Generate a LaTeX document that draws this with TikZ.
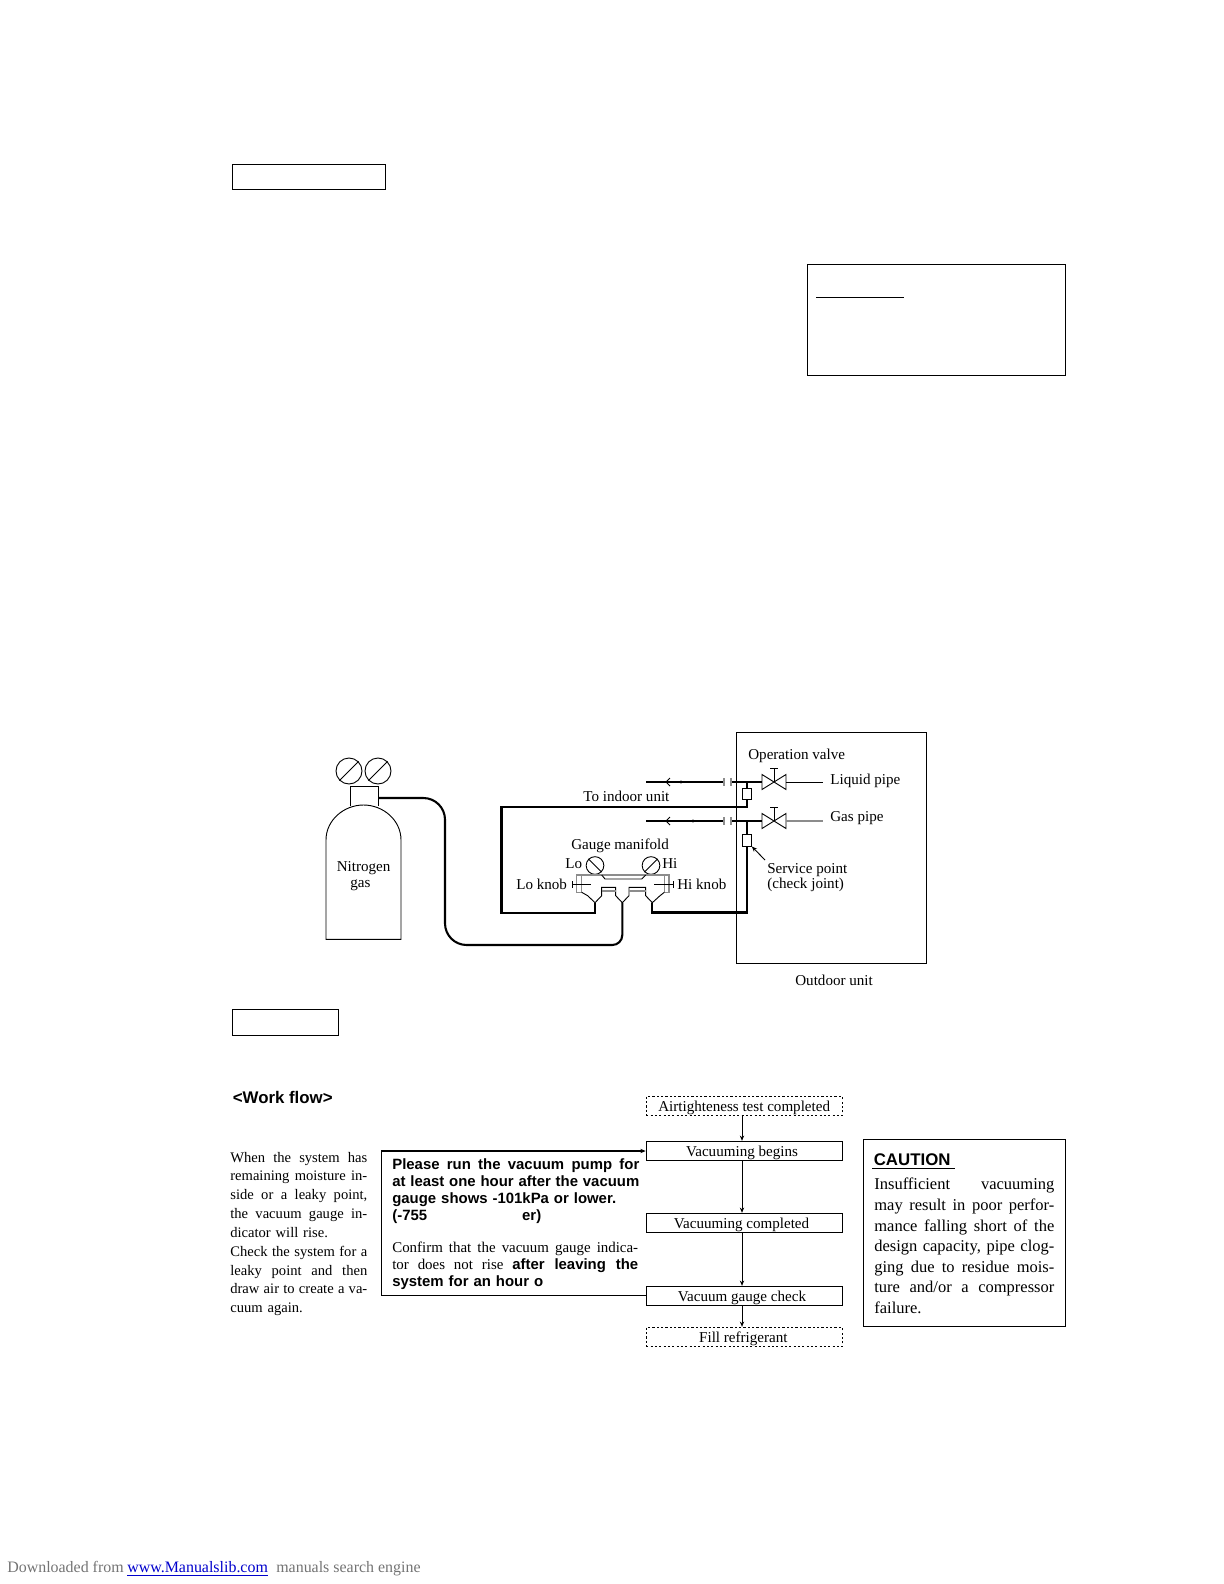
\documentclass[tikz,border=0pt]{standalone}
\usepackage{fontspec}
\setmainfont{Liberation Serif}
\setsansfont{Liberation Sans}
\usetikzlibrary{arrows.meta,calc}
\newcommand{\jl}[1]{\hbox to \hsize{\spaceskip=0pt\xspaceskip=0pt #1}}
\newcommand{\nl}[1]{\hbox to \hsize{#1\hfil}}
\tikzset{
  thinline/.style={line width=0.55pt,black},
  pipe/.style={line width=1.25pt,black},
  pipeplain/.style={line width=1.25pt,black},
  greyline/.style={line width=0.7pt,black!45},
  lab/.style={inner sep=0pt,anchor=west,font=\fontsize{9.05}{11}\selectfont,text height=8.4pt,text depth=2pt},
  emptybox/.style={draw,line width=0.55pt,inner sep=0pt,anchor=north west},
  flowbox/.style={draw,line width=0.6pt,inner sep=0pt,minimum width=117.6pt,minimum height=11.6pt,font=\fontsize{9.05}{11}\selectfont,text height=8.4pt,text depth=2pt},
  flowdash/.style={flowbox,dash pattern=on 1.3pt off 1.3pt},
  gauge/.style={draw,circle,line width=0.55pt,inner sep=0pt,minimum size=#1},
  para/.style={inner sep=0pt,anchor=north west,font=\fontsize{8.75}{11.3}\selectfont},
  tip/.style={-{Stealth[length=3.2pt,width=2.6pt]}}
}
\begin{document}
\begin{tikzpicture}[x=0.6pt,y=-0.6pt]
\useasboundingbox (0,0) rectangle (1224,1584);
% empty frames of the page
\node[emptybox,minimum width=92pt,minimum height=15pt] (frameA) at (232,164.4) {};
\node[emptybox,minimum width=154.8pt,minimum height=66.3pt] (frameB) at (807,264.3) {};
\draw[thinline] (816,297.5) -- (904,297.5);
\node[emptybox,minimum width=63.6pt,minimum height=15.6pt] (frameC) at (232,1009) {};

% nitrogen cylinder
\draw[thinline] (326,939.4) -- (326,840) .. controls (326,820) and (344,805) .. (363.5,805)
  .. controls (383,805) and (401,820) .. (401,840) -- (401,939.4) -- cycle;
\draw[thinline] (350,806) -- (350,786) -- (378,786) -- (378,806);
\node[gauge=15.6pt] (g1) at (349,771) {};
\node[gauge=15.6pt] (g2) at (378,771) {};
\draw[thinline] (g1.225) -- (g1.45);
\draw[thinline] (g2.225) -- (g2.45);
\node[lab] (nit) at (336.5,866) {Nitrogen};
\node[lab] (gasl) at (350,882) {gas};

% outdoor unit
\node[emptybox,minimum width=114pt,minimum height=138.6pt] (outdoor) at (736,732) {};
\node[lab] (opv) at (748,754) {Operation valve};
\node[lab] (liq) at (830,779) {Liquid pipe};
\node[lab] (gasp) at (830,816) {Gas pipe};
\node[lab] (sp) at (767,868) {Service point};
\node[lab] (cj) at (767,883) {(check joint)};
\node[lab] (outl) at (795,980) {Outdoor unit};
\node[lab] (toin) at (583,796) {To indoor unit};
\node[lab] (gm) at (571,844) {Gauge manifold};
\node[lab] (lo) at (565,863) {Lo};
\node[lab] (hi) at (662,863) {Hi};
\node[lab] (lok) at (516,884.5) {Lo knob};
\node[lab] (hik) at (677,884.5) {Hi knob};

% pipes and valves
\draw[pipeplain] (646,782) -- (724,782);
\draw[pipeplain] (731,782) -- (762,782);
\draw[pipeplain] (646,821) -- (724,821);
\draw[pipeplain] (731,821) -- (762,821);
\foreach \yy in {782,821}{
  \draw[greyline] (724,\yy-4) -- (724,\yy+4);
  \draw[greyline] (731,\yy-4) -- (731,\yy+4);
  \draw[thinline] (670,\yy-4) -- (666,\yy) -- (670,\yy+4);
  \draw[thinline] (762,\yy-7.5) -- (786,\yy+7.5) -- (786,\yy-7.5) -- (762,\yy+7.5) -- cycle;
  \draw[thinline] (774,\yy) -- (774,\yy-14);
  \draw[thinline] (770,\yy-14) -- (778,\yy-14);
}
\fill (681,782) circle (1pt);
\fill (693,821) circle (1pt);
\draw[thinline] (786,782) -- (823,782);
\draw[line width=0.8pt,black!45] (786,821) -- (823,821);

% service joints
\node[draw,line width=0.6pt,fill=white,inner sep=0pt,minimum width=5.2pt,minimum height=6.8pt] (joint1) at (747,794) {};
\node[draw,line width=0.6pt,fill=white,inner sep=0pt,minimum width=5.2pt,minimum height=7.2pt] (joint2) at (747,840) {};
\coordinate (liqT) at (747,782);
\coordinate (gasT) at (747,821);
\draw[pipeplain] (liqT) -- (joint1.north);
\draw[pipeplain] (gasT) -- (joint2.north);
\draw[pipeplain] (joint1.south) -- (747,807) -- (501.5,807) -- (501.5,913) -- (595,913) -- (595,902.7);
\draw[pipeplain] (joint2.south) -- (747,912.5) -- (652.3,912.5) -- (652.3,902.7);
\draw[thinline,tip] (765,860) -- (joint2.south east);

% nitrogen hose
\coordinate (hoseA) at (378,798);
\coordinate (hoseB) at (622.3,902.7);
\draw[pipe,rounded corners=13pt] (hoseA) -- (445,798) -- (445,945) [rounded corners=6pt] -- (622.3,945) -- (hoseB);

% gauge manifold
\node[gauge=10.6pt] (glo) at (595,865.5) {};
\node[gauge=10.6pt] (ghi) at (651,865.5) {};
\draw[thinline] (glo.135) -- (glo.-45);
\draw[thinline] (ghi.225) -- (ghi.45);
\draw[greyline] (581.7,892.3) -- (576.7,892.3) -- (576.7,875) -- (669,875) -- (669,892.3) -- (664.3,892.3);
\draw[greyline] (581.7,875) -- (581.7,892.3);
\draw[greyline] (664.3,875) -- (664.3,892.3);
\draw[thinline] (601.7,875) -- (605,879) -- (641.7,879) -- (645.7,875);
\draw[thinline] (572.3,884.3) -- (590.7,884.3);
\draw[thinline] (572.3,881) -- (572.3,887.5);
\draw[thinline] (654.3,884.3) -- (673.3,884.3);
\draw[thinline] (673.3,881) -- (673.3,887.5);
\draw[thinline] (581.7,892.3) -- (587.7,895.7) -- (595,902.7) -- (601.7,895.7) -- (601.7,887.3) -- (615.7,887.3) -- (615.7,895.7) -- (622.3,902.7) -- (629,895.7) -- (629,887.3) -- (645.7,887.3) -- (645.7,895.7) -- (652.3,902.7) -- (660,895.7) -- (664.3,892.3);
\draw[greyline] (601.7,891) -- (615.7,891);
\draw[greyline] (629,891) -- (645.7,891);

% work flow
\node[inner sep=0pt,anchor=west,font=\fontsize{10.1}{12}\selectfont\sffamily\bfseries] (wf) at (232.5,1097) {<Work flow>};

\node[para,text width=82.2pt] (side) at (230,1151.6) {
\jl{When the system has}
\jl{remaining moisture in-}
\jl{side or a leaky point,}
\jl{the vacuum gauge in-}
\nl{dicator will rise.}
\jl{Check the system for a}
\jl{leaky point and then}
\jl{draw air to create a va-}
\nl{cuum again.}
};

\node[para,text width=148.2pt,font=\fontsize{8.95}{10.2}\selectfont\sffamily\bfseries] (bold) at (392,1158) {
\jl{Please run the vacuum pump for}
\jl{at least one hour after the vacuum}
\nl{gauge shows -101kPa or lower.}
\nl{(-755\hspace{57pt}er)}
};
\node[para,text width=147.5pt,font=\fontsize{8.95}{10.2}\selectfont] (conf) at (392,1241.5) {
\jl{Confirm that the vacuum gauge indica-}
\jl{tor does not rise {\sffamily\bfseries after leaving the}}
\nl{\sffamily\bfseries system for an hour o}
};

\node[flowdash] (air) at (744.2,1106) {Airtighteness test completed};
\node[flowbox] (beg) at (744.2,1151) {Vacuuming begins\kern2.6pt};
\node[flowbox] (comp) at (744.2,1223) {Vacuuming completed\kern3.2pt};
\node[flowbox] (chk) at (744.2,1296) {Vacuum gauge check\kern2.6pt};
\node[flowdash] (fill) at (744.2,1337) {Fill refrigerant\kern1pt};
\coordinate (fx) at (742,0);
\draw[thinline,tip] (air.south -| fx) -- (beg.north -| fx);
\draw[thinline,tip] (beg.south -| fx) -- (comp.north -| fx);
\draw[thinline,tip] (comp.south -| fx) -- (chk.north -| fx);
\draw[thinline,tip] (chk.south -| fx) -- (fill.north -| fx);

\coordinate (loopTL) at (381,1151);
\coordinate (loopBL) at (381,1295);
\draw[line width=0.55pt] (chk.west |- loopBL) -- (loopBL) -- (loopTL);
\draw[line width=1pt,tip] (loopTL) -- (beg.west |- loopTL);

% caution
\node[emptybox,line width=0.6pt,minimum width=121pt,minimum height=112.2pt] (caubox) at (863,1139) {};
\node[inner sep=0pt,anchor=west,font=\fontsize{10.1}{12}\selectfont\sffamily\bfseries] (cau) at (873.5,1160) {CAUTION};
\draw[thinline] (872,1168) -- (955,1168);
\node[para,text width=108pt,font=\fontsize{9.9}{12.35}\selectfont] (cautxt) at (874,1178) {
\jl{Insufficient\hfil vacuuming}
\jl{may result in poor perfor-}
\jl{mance falling short of the}
\jl{design capacity, pipe clog-}
\jl{ging due to residue mois-}
\jl{ture and/or a compressor}
\nl{failure.}
};

% footer
\node[inner sep=0pt,anchor=west,font=\fontsize{9.56}{12}\selectfont,text height=8.1pt,text depth=2pt,text=black!55] (dl) at (7,1567) {Downloaded from};
\node[inner sep=0pt,anchor=west,font=\fontsize{9.56}{12}\selectfont,text height=8.1pt,text depth=2pt,text=blue!80!black] (lnk) at (127,1567) {www.Manualslib.com};
\draw[blue!80!black,line width=0.5pt] (lnk.south west) -- (lnk.south east);
\node[inner sep=0pt,anchor=west,font=\fontsize{9.56}{12}\selectfont,text height=8.1pt,text depth=2pt,text=black!55] (se) at (276,1567) {manuals search engine};
\end{tikzpicture}
\end{document}
